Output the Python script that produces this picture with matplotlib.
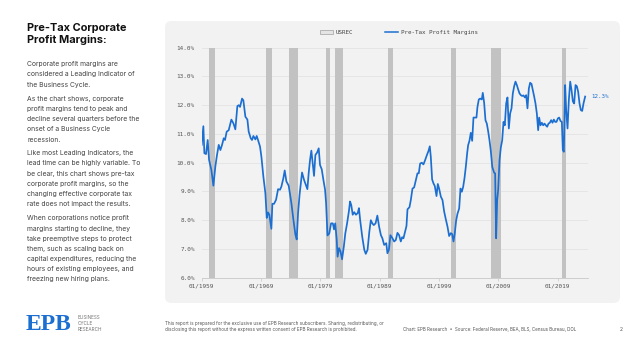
import matplotlib
matplotlib.use('Agg')
import matplotlib.pyplot as plt
from matplotlib.patches import FancyBboxPatch, Patch
from matplotlib.lines import Line2D

# pre-tax profit margin (%)
years = [1959.00, 1959.28, 1959.45, 1959.73, 1960.01, 1960.24, 1960.63, 1960.97, 1961.30, 1961.58,
         1961.87, 1962.15, 1962.43, 1962.71, 1962.93, 1963.21, 1963.55, 1964.00, 1964.34, 1964.67,
         1965.01, 1965.24, 1965.46, 1965.80, 1966.02, 1966.36, 1966.70, 1966.92, 1967.26, 1967.48,
         1967.71, 1968.04, 1968.27, 1968.49, 1968.83, 1969.06, 1969.39, 1969.73, 1969.96, 1970.18,
         1970.40, 1970.74, 1970.91, 1971.19, 1971.53, 1971.87, 1972.20, 1972.43, 1972.76, 1972.99,
         1973.27, 1973.66, 1974.11, 1974.45, 1974.79, 1975.01, 1975.24, 1975.50, 1975.91, 1976.25,
         1976.59, 1976.81, 1977.03, 1977.26, 1977.48, 1977.71, 1977.93, 1978.16, 1978.44, 1978.72,
         1978.94, 1979.23, 1979.51, 1979.79, 1979.96, 1980.20, 1980.50, 1980.80, 1981.10, 1981.30,
         1981.50, 1981.75, 1981.90, 1982.15, 1982.40, 1982.65, 1982.95, 1983.20, 1983.50, 1983.80,
         1984.00, 1984.20, 1984.45, 1984.70, 1985.00, 1985.30, 1985.50, 1985.70, 1986.05, 1986.40,
         1986.65, 1986.95, 1987.25, 1987.50, 1987.75, 1988.00, 1988.30, 1988.60, 1988.90, 1989.20,
         1989.45, 1989.75, 1990.10, 1990.30, 1990.55, 1990.80, 1991.15, 1991.43, 1991.71, 1991.99,
         1992.27, 1992.55, 1992.78, 1993.00, 1993.28, 1993.51, 1993.68, 1994.01, 1994.24, 1994.52,
         1994.80, 1995.03, 1995.36, 1995.58, 1995.81, 1996.09, 1996.37, 1996.65, 1996.94, 1997.22,
         1997.44, 1997.61, 1997.83, 1998.06, 1998.28, 1998.57, 1998.79, 1999.01, 1999.30, 1999.58,
         1999.86, 2000.14, 2000.42, 2000.70, 2000.98, 2001.20, 2001.43, 2001.65, 2001.88, 2002.10,
         2002.39, 2002.61, 2002.84, 2003.06, 2003.28, 2003.51, 2003.73, 2003.90, 2004.12, 2004.35,
         2004.58, 2004.80, 2005.02, 2005.30, 2005.47, 2005.70, 2005.92, 2006.20, 2006.37, 2006.60,
         2006.82, 2007.05, 2007.27, 2007.50, 2007.72, 2007.97, 2008.29, 2008.45, 2008.62, 2008.79,
         2008.96, 2009.19, 2009.41, 2009.64, 2009.86, 2010.08, 2010.31, 2010.53, 2010.76, 2010.98,
         2011.21, 2011.43, 2011.66, 2011.88, 2012.11, 2012.33, 2012.56, 2012.78, 2013.00, 2013.23,
         2013.46, 2013.68, 2013.90, 2014.13, 2014.35, 2014.58, 2014.80, 2015.03, 2015.25, 2015.48,
         2015.70, 2015.87, 2016.10, 2016.32, 2016.55, 2016.77, 2017.00, 2017.22, 2017.44, 2017.67,
         2017.89, 2018.12, 2018.34, 2018.57, 2018.79, 2019.02, 2019.24, 2019.47, 2019.69, 2019.86,
         2020.03, 2020.25, 2020.42, 2020.65, 2020.87, 2021.10, 2021.32, 2021.55, 2021.77, 2022.00,
         2022.22, 2022.44, 2022.67, 2022.89, 2023.12, 2023.34, 2023.62]
margins = [10.62, 11.27, 10.33, 10.30, 10.79, 10.10, 9.75, 9.20, 9.87, 10.27,
           10.62, 10.44, 10.62, 10.85, 10.79, 11.08, 11.13, 11.50, 11.37, 11.16,
           11.97, 12.00, 11.94, 12.23, 12.17, 11.60, 11.50, 11.08, 10.85, 10.79,
           10.93, 10.81, 10.93, 10.79, 10.56, 10.21, 9.52, 8.94, 8.08, 8.27,
           8.19, 7.70, 8.57, 8.57, 8.71, 9.08, 9.06, 9.17, 9.46, 9.73,
           9.35, 9.20, 8.60, 8.02, 7.50, 7.33, 8.25, 8.90, 9.66, 9.40,
           9.20, 9.08, 9.64, 10.10, 10.42, 9.98, 9.54, 10.27, 10.35, 10.50,
           9.92, 9.77, 9.40, 9.06, 8.60, 7.47, 7.54, 7.89, 7.89, 7.68,
           7.89, 7.33, 6.73, 7.03, 6.91, 6.64, 7.08, 7.54, 7.89, 8.30,
           8.65, 8.53, 8.19, 8.28, 8.19, 8.25, 8.42, 8.01, 7.43, 6.97,
           6.83, 6.97, 7.60, 8.00, 7.89, 7.83, 7.89, 8.16, 7.77, 7.48,
           7.37, 7.14, 7.20, 6.85, 6.97, 7.48, 7.37, 7.26, 7.31, 7.56,
           7.48, 7.26, 7.41, 7.37, 7.60, 7.80, 8.38, 8.45, 8.70, 9.10,
           9.14, 9.34, 9.63, 9.63, 9.97, 10.00, 9.94, 10.09, 10.26, 10.41,
           10.57, 10.20, 9.42, 9.28, 9.19, 8.84, 9.26, 9.10, 8.82, 8.70,
           8.30, 8.03, 7.78, 7.45, 7.55, 7.52, 7.26, 7.55, 7.99, 8.22,
           8.41, 9.10, 8.99, 9.16, 9.45, 9.86, 10.32, 10.61, 10.76, 11.04,
           10.76, 11.57, 11.57, 11.57, 11.94, 12.20, 12.23, 12.20, 12.43, 12.08,
           11.48, 11.36, 11.10, 10.78, 10.41, 9.85, 9.65, 9.63, 7.37, 8.70,
           9.05, 10.09, 10.53, 10.78, 11.42, 11.30, 12.06, 12.27, 11.19, 11.71,
           11.89, 12.41, 12.66, 12.82, 12.70, 12.55, 12.41, 12.35, 12.32, 12.34,
           12.27, 12.35, 11.89, 12.58, 12.78, 12.74, 12.53, 12.30, 12.06, 11.71,
           11.13, 11.57, 11.30, 11.39, 11.30, 11.36, 11.30, 11.25, 11.36, 11.39,
           11.48, 11.39, 11.50, 11.42, 11.42, 11.54, 11.57, 11.45, 11.42, 10.44,
           10.38, 12.70, 11.83, 11.19, 12.17, 12.82, 12.53, 12.13, 12.06, 12.70,
           12.66, 12.47, 12.06, 11.83, 11.80, 12.06, 12.30]

# USREC shading
rec_start = [1960.25, 1969.83, 1973.67, 1979.92, 1981.42, 1990.42, 2001.00, 2007.83, 2019.75]
rec_end = [1961.17, 1970.92, 1975.17, 1980.58, 1982.83, 1991.17, 2001.83, 2009.42, 2020.33]

tick_years = [1959, 1969, 1979, 1989, 1999, 2009, 2019]
tick_labels = ['01/1959', '01/1969', '01/1979', '01/1989', '01/1999', '01/2009', '01/2019']
y_ticks = [6, 7, 8, 9, 10, 11, 12, 13, 14]

BLUE = '#1c6fd1'
MONO = 'DejaVu Sans Mono'
W, H = 640, 352

fig = plt.figure(figsize=(6.4, 3.52), dpi=100)
fig.patch.set_facecolor('white')

# grey card behind the chart
card = FancyBboxPatch((165 / W, 1 - 303 / H), (620 - 165) / W, (303 - 21) / H,
                      boxstyle='round,pad=0,rounding_size=0.01', mutation_aspect=W / H,
                      transform=fig.transFigure, facecolor='#f2f2f2', edgecolor='none', zorder=-10)
fig.patches.append(card)

ax = fig.add_axes([201.7 / W, 1 - 277.7 / H, (588 - 201.7) / W, (277.7 - 47.7) / H])
ax.set_zorder(2)
ax.set_facecolor('none')
for s, e in zip(rec_start, rec_end):
    ax.axvspan(s, e, color='#c2c2c2', lw=0, zorder=1)
ax.plot(years, margins, color=BLUE, lw=1.25, zorder=3)

ax.set_xlim(1959, 2024.1)
ax.set_ylim(6, 14)
ax.set_yticks(y_ticks)
ax.set_yticklabels(['%.1f%%' % v for v in y_ticks])
ax.set_xticks(tick_years)
ax.set_xticklabels(tick_labels)
ax.grid(axis='y', color='#e3e3e3', lw=0.6)
ax.set_axisbelow(True)
for side in ['left', 'right', 'top']:
    ax.spines[side].set_visible(False)
ax.spines['bottom'].set_color('#c8c8c8')
ax.spines['bottom'].set_linewidth(0.6)
ax.tick_params(axis='y', length=0, pad=5, labelsize=4.3, labelcolor='#555555')
ax.tick_params(axis='x', length=2, width=0.5, color='#c8c8c8', pad=2, labelsize=4.3, labelcolor='#555555')
for lab in ax.get_xticklabels() + ax.get_yticklabels():
    lab.set_family(MONO)

ax.annotate('%.1f%%' % margins[-1], xy=(years[-1], margins[-1]), xytext=(4.5, 0),
            textcoords='offset points', color=BLUE, fontsize=4.2, family=MONO, va='center')

handles = [Patch(facecolor='#e4e4e4', edgecolor='#a0a0a0', lw=0.5, label='USREC'),
           Line2D([], [], color=BLUE, lw=1.1, label='Pre-Tax Profit Margins')]
ax.legend(handles=handles, loc='center', bbox_to_anchor=(0.51, 1.068), ncol=2, frameon=False,
          prop={'family': MONO, 'size': 4.2}, handlelength=2.3, handleheight=0.7,
          handletextpad=0.4, columnspacing=5.5, labelcolor='#444444')

# left side commentary
fig.text(27 / W, 1 - 23 / H, 'Pre-Tax Corporate\nProfit Margins:', fontsize=7.9, weight='bold',
         family='Inter', color='#111111', va='top', linespacing=1.3)

paragraphs = [
    ['Corporate profit margins are', 'considered a Leading Indicator of', 'the Business Cycle.'],
    ['As the chart shows, corporate', 'profit margins tend to peak and',
     'decline several quarters before the', 'onset of a Business Cycle', 'recession.'],
    ['Like most Leading Indicators, the', 'lead time can be highly variable. To',
     'be clear, this chart shows pre-tax', 'corporate profit margins, so the',
     'changing effective corporate tax', 'rate does not impact the results.'],
    ['When corporations notice profit', 'margins starting to decline, they',
     'take preemptive steps to protect', 'them, such as scaling back on',
     'capital expenditures, reducing the', 'hours of existing employees, and',
     'freezing new hiring plans.'],
]
para_top = [64.3, 99.2, 153.4, 218.4]
for lines, y0 in zip(paragraphs, para_top):
    for i, line in enumerate(lines):
        fig.text(27 / W, 1 - (y0 + i * 10.1) / H, line, fontsize=4.9, family='Inter',
                 color='#444444', va='center')

# footer
fig.text(26 / W, 1 - 324.5 / H, 'EPB', fontsize=17, family='Liberation Serif', weight='bold',
         color=BLUE, va='center')
for i, word in enumerate(['BUSINESS', 'CYCLE', 'RESEARCH']):
    fig.text(78 / W, 1 - (317.5 + i * 6.2) / H, word, fontsize=3.4, family='Inter',
             color='#777777', va='center')
fig.text(165 / W, 1 - 323 / H, 'This report is prepared for the exclusive use of EPB Research subscribers. '
         'Sharing, redistributing, or', fontsize=3.3, family='Inter', color='#555555', va='center')
fig.text(165 / W, 1 - 329.5 / H, 'disclosing this report without the express written consent of '
         'EPB Research is prohibited.', fontsize=3.3, family='Inter', color='#555555', va='center')
fig.text(403 / W, 1 - 329.3 / H, 'Chart: EPB Research  \u2022  Source: Federal Reserve, BEA, BLS, Census Bureau, DOL',
         fontsize=3.25, family='Inter', color='#555555', va='center')
fig.text(620 / W, 1 - 329.3 / H, '2', fontsize=3.6, family='Inter', color='#555555', va='center')

fig.savefig('out.png', dpi=100, facecolor='white')
